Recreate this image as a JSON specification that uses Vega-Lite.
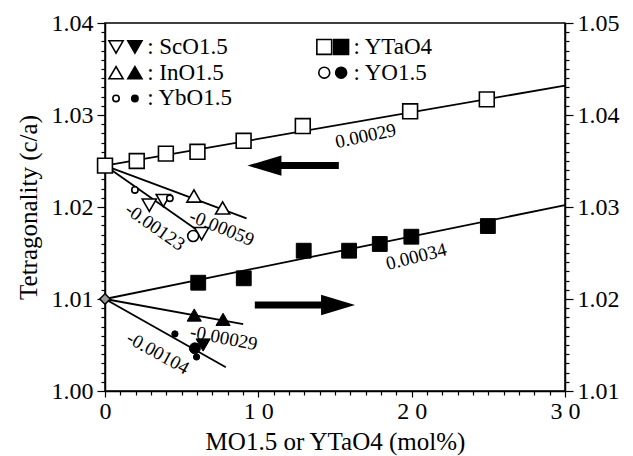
{
  "$schema": "https://vega.github.io/schema/vega-lite/v6.json",
  "width": 460,
  "height": 368,
  "autosize": {"type": "none"},
  "padding": {"left": 105, "top": 23, "right": 68, "bottom": 65},
  "background": "white",
  "config": {
    "font": "'Liberation Serif', 'Times New Roman', 'DejaVu Serif', serif",
    "view": {"stroke": "black", "strokeWidth": 1.5},
    "axis": {
      "labelFont": "'Liberation Serif', 'Times New Roman', 'DejaVu Serif', serif", "titleFont": "'Liberation Serif', 'Times New Roman', 'DejaVu Serif', serif",
      "labelFontSize": 24, "titleFontSize": 25, "titleFontWeight": "normal",
      "labelColor": "black", "titleColor": "black", "domainColor": "black",
      "tickColor": "black", "grid": false, "domainWidth": 1.5, "tickWidth": 1.2,
      "labelOverlap": false, "labelFlush": false
    },
    "text": {"font": "'Liberation Serif', 'Times New Roman', 'DejaVu Serif', serif", "color": "black"}
  },
  "datasets": {
    "openPts": [
      {"series": "YTaO4", "x": 0, "y": 1.0245},
      {"series": "YTaO4", "x": 2.07, "y": 1.0250},
      {"series": "YTaO4", "x": 3.97, "y": 1.0258},
      {"series": "YTaO4", "x": 6.03, "y": 1.0260},
      {"series": "YTaO4", "x": 9.04, "y": 1.0272},
      {"series": "YTaO4", "x": 12.9, "y": 1.0288},
      {"series": "YTaO4", "x": 19.9, "y": 1.0304},
      {"series": "YTaO4", "x": 24.9, "y": 1.0317},
      {"series": "InO1.5", "x": 5.8, "y": 1.0212},
      {"series": "InO1.5", "x": 7.67, "y": 1.0199},
      {"series": "ScO1.5", "x": 2.89, "y": 1.0202},
      {"series": "ScO1.5", "x": 3.8, "y": 1.0207},
      {"series": "ScO1.5", "x": 6.3, "y": 1.0171},
      {"series": "YbO1.5", "x": 1.95, "y": 1.02185},
      {"series": "YbO1.5", "x": 4.23, "y": 1.02095},
      {"series": "YO1.5", "x": 5.75, "y": 1.01685}
    ],
    "filledPts": [
      {"series": "YTaO4", "x": 6.08, "y": 1.02177},
      {"series": "YTaO4", "x": 9.05, "y": 1.02225},
      {"series": "YTaO4", "x": 12.96, "y": 1.02525},
      {"series": "YTaO4", "x": 15.92, "y": 1.02525},
      {"series": "YTaO4", "x": 17.92, "y": 1.02598},
      {"series": "YTaO4", "x": 19.98, "y": 1.02677},
      {"series": "YTaO4", "x": 24.97, "y": 1.02793},
      {"series": "InO1.5", "x": 5.82, "y": 1.01826},
      {"series": "InO1.5", "x": 7.7, "y": 1.01779},
      {"series": "ScO1.5", "x": 6.4, "y": 1.0150},
      {"series": "YbO1.5", "x": 4.56, "y": 1.0162},
      {"series": "YbO1.5", "x": 5.97, "y": 1.0137},
      {"series": "YO1.5", "x": 5.86, "y": 1.01464}
    ],
    "startR": [{"x": 0, "y": 1.02}],
    "fitL": [
      {"line": "YTaO4", "x": 0, "y": 1.0245}, {"line": "YTaO4", "x": 30, "y": 1.0332},
      {"line": "InO1.5", "x": 0, "y": 1.0245}, {"line": "InO1.5", "x": 9.23, "y": 1.01877},
      {"line": "ScO1.5", "x": 0, "y": 1.0245}, {"line": "ScO1.5", "x": 6.3, "y": 1.01714}
    ],
    "fitR": [
      {"line": "YTaO4", "x": 0, "y": 1.02}, {"line": "YTaO4", "x": 30, "y": 1.0302},
      {"line": "InO1.5", "x": 0, "y": 1.02}, {"line": "InO1.5", "x": 9.01, "y": 1.01728},
      {"line": "ScO1.5", "x": 0, "y": 1.02}, {"line": "ScO1.5", "x": 7.88, "y": 1.01258}
    ],
    "arrowLBar": [{"x": 10.6, "y": 1.0245}, {"x": 15.25, "y": 1.0245}],
    "arrowLHead": [{"x": 10.4, "y": 1.0245}],
    "arrowRBar": [{"x": 9.77, "y": 1.01935}, {"x": 15.0, "y": 1.01935}],
    "arrowRHead": [{"x": 15.2, "y": 1.01935}],
    "legendSym": [
      {"series": "ScO1.5", "kind": "open", "x": 0.72, "y": 1.0374},
      {"series": "ScO1.5", "kind": "filled", "x": 1.95, "y": 1.0374},
      {"series": "InO1.5", "kind": "open", "x": 0.72, "y": 1.0346},
      {"series": "InO1.5", "kind": "filled", "x": 1.95, "y": 1.0346},
      {"series": "YbO1.5", "kind": "open", "x": 0.72, "y": 1.0318},
      {"series": "YbO1.5", "kind": "filled", "x": 1.95, "y": 1.0318},
      {"series": "YTaO4", "kind": "open", "x": 14.3, "y": 1.0374},
      {"series": "YTaO4", "kind": "filled", "x": 15.4, "y": 1.0374},
      {"series": "YO1.5", "kind": "open", "x": 14.3, "y": 1.0346},
      {"series": "YO1.5", "kind": "filled", "x": 15.4, "y": 1.0346}
    ],
    "legendTxt": [
      {"label": ": ScO1.5", "x": 2.75, "y": 1.0374},
      {"label": ": InO1.5", "x": 2.75, "y": 1.0346},
      {"label": ": YbO1.5", "x": 2.75, "y": 1.0318},
      {"label": ": YTaO4", "x": 16.2, "y": 1.0374},
      {"label": ": YO1.5", "x": 16.2, "y": 1.0346}
    ]
  },
  "layer": [
    {
      "encoding": {
        "x": {"field": "x", "type": "quantitative",
          "scale": {"domain": [0, 30], "nice": false, "zero": false},
          "axis": {
            "title": "MO1.5 or YTaO4 (mol%)", "titlePadding": 6, "labelPadding": 2,
            "values": [0,1,2,3,4,5,6,7,8,9,10,11,12,13,14,15,16,17,18,19,20,21,22,23,24,25,26,27,28,29,30],
            "labelExpr": "datum.value==0?'0':datum.value==10?'1 0':datum.value==20?'2 0':datum.value==30?'3 0':''",
            "tickSize": {"condition": {"test": "datum.value%10==0", "value": 6}, "value": 4}
          }
        },
        "y": {"field": "y", "type": "quantitative",
          "scale": {"domain": [1.0, 1.04], "nice": false, "zero": false},
          "axis": {
            "orient": "left", "title": "Tetragonality (c/a)", "titlePadding": 10, "labelPadding": 4,
            "values": [1.000,1.001,1.002,1.003,1.004,1.005,1.006,1.007,1.008,1.009,1.010,1.011,1.012,1.013,1.014,1.015,1.016,1.017,1.018,1.019,1.020,1.021,1.022,1.023,1.024,1.025,1.026,1.027,1.028,1.029,1.030,1.031,1.032,1.033,1.034,1.035,1.036,1.037,1.038,1.039,1.040],
            "labelExpr": "abs(datum.value*100-round(datum.value*100))<0.001 ? format(datum.value,'.2f') : ''",
            "tickSize": {"condition": {"test": "abs(datum.value*100-round(datum.value*100))<0.001", "value": 8}, "value": 4}
          }
        }
      },
      "layer": [
        {"data": {"name": "fitL"}, "mark": {"type": "line", "color": "black", "strokeWidth": 1.8},
         "encoding": {"detail": {"field": "line"}}},
        {"data": {"name": "arrowLBar"}, "mark": {"type": "line", "color": "black", "strokeWidth": 7},
         "encoding": {}},
        {"data": {"name": "arrowLHead"}, "mark": {"type": "point", "filled": true, "color": "black", "size": 1156, "shape": "M-1,0L1,-0.6L1,0.6Z", "opacity": 1},
         "encoding": {}},
        {"data": {"name": "openPts"}, "mark": {"type": "point", "filled": true, "fill": "white", "stroke": "black", "strokeWidth": 1.6, "opacity": 1},
         "encoding": {
           "shape": {"field": "series", "type": "nominal", "scale": {"domain": ["YTaO4","InO1.5","ScO1.5","YbO1.5","YO1.5"], "range": ["square","triangle-up","triangle-down","circle","circle"]}, "legend": null},
           "size": {"field": "series", "type": "nominal", "scale": {"type": "ordinal", "domain": ["YTaO4","InO1.5","ScO1.5","YbO1.5","YO1.5"], "range": [220,200,200,40,120]}, "legend": null}
         }},
        {"data": {"name": "legendSym"}, "mark": {"type": "point", "filled": true, "stroke": "black", "strokeWidth": 1.6, "opacity": 1},
         "encoding": {
           "shape": {"field": "series", "type": "nominal", "scale": {"domain": ["YTaO4","InO1.5","ScO1.5","YbO1.5","YO1.5"], "range": ["square","triangle-up","triangle-down","circle","circle"]}, "legend": null},
           "size": {"field": "series", "type": "nominal", "scale": {"type": "ordinal", "domain": ["YTaO4","InO1.5","ScO1.5","YbO1.5","YO1.5"], "range": [220,200,200,40,120]}, "legend": null},
           "fill": {"field": "kind", "type": "nominal", "scale": {"domain": ["open","filled"], "range": ["white","black"]}, "legend": null}
         }},
        {"data": {"name": "legendTxt"}, "mark": {"type": "text", "align": "left", "baseline": "middle", "fontSize": 23},
         "encoding": {"text": {"field": "label"}}},
        {"data": {"values": [{"label": "0.00029", "x": 17.0, "y": 1.02772}]}, "mark": {"type": "text", "fontSize": 19, "angle": 348},
         "encoding": {"text": {"field": "label"}}},
        {"data": {"values": [{"label": "-0.00123", "x": 3.26, "y": 1.01783}]}, "mark": {"type": "text", "fontSize": 19, "angle": 35},
         "encoding": {"text": {"field": "label"}}},
        {"data": {"values": [{"label": "-0.00059", "x": 7.62, "y": 1.01772}]}, "mark": {"type": "text", "fontSize": 19, "angle": 22},
         "encoding": {"text": {"field": "label"}}}
      ]
    },
    {
      "encoding": {
        "x": {"field": "x", "type": "quantitative",
          "scale": {"domain": [0, 30], "nice": false, "zero": false},
          "axis": {
            "title": "MO1.5 or YTaO4 (mol%)", "titlePadding": 6, "labelPadding": 2,
            "values": [0,1,2,3,4,5,6,7,8,9,10,11,12,13,14,15,16,17,18,19,20,21,22,23,24,25,26,27,28,29,30],
            "labelExpr": "datum.value==0?'0':datum.value==10?'1 0':datum.value==20?'2 0':datum.value==30?'3 0':''",
            "tickSize": {"condition": {"test": "datum.value%10==0", "value": 6}, "value": 4}
          }
        },
        "y": {"field": "y", "type": "quantitative",
          "scale": {"domain": [1.01, 1.05], "nice": false, "zero": false},
          "axis": {
            "orient": "right", "title": null, "labelPadding": 4,
            "values": [1.010,1.011,1.012,1.013,1.014,1.015,1.016,1.017,1.018,1.019,1.020,1.021,1.022,1.023,1.024,1.025,1.026,1.027,1.028,1.029,1.030,1.031,1.032,1.033,1.034,1.035,1.036,1.037,1.038,1.039,1.040,1.041,1.042,1.043,1.044,1.045,1.046,1.047,1.048,1.049,1.050],
            "labelExpr": "abs(datum.value*100-round(datum.value*100))<0.001 ? format(datum.value,'.2f') : ''",
            "tickSize": {"condition": {"test": "abs(datum.value*100-round(datum.value*100))<0.001", "value": 8}, "value": 4}
          }
        }
      },
      "layer": [
        {"data": {"name": "fitR"}, "mark": {"type": "line", "color": "black", "strokeWidth": 1.8},
         "encoding": {"detail": {"field": "line"}}},
        {"data": {"name": "arrowRBar"}, "mark": {"type": "line", "color": "black", "strokeWidth": 7},
         "encoding": {}},
        {"data": {"name": "arrowRHead"}, "mark": {"type": "point", "filled": true, "color": "black", "size": 1156, "shape": "M1,0L-1,-0.6L-1,0.6Z", "opacity": 1},
         "encoding": {}},
        {"data": {"name": "filledPts"}, "mark": {"type": "point", "filled": true, "fill": "black", "stroke": "black", "strokeWidth": 1, "opacity": 1},
         "encoding": {
           "shape": {"field": "series", "type": "nominal", "scale": {"domain": ["YTaO4","InO1.5","ScO1.5","YbO1.5","YO1.5"], "range": ["square","triangle-up","triangle-down","circle","circle"]}, "legend": null},
           "size": {"field": "series", "type": "nominal", "scale": {"type": "ordinal", "domain": ["YTaO4","InO1.5","ScO1.5","YbO1.5","YO1.5"], "range": [220,200,200,40,120]}, "legend": null}
         }},
        {"data": {"name": "startR"}, "mark": {"type": "point", "shape": "diamond", "filled": true, "fill": "#999999", "stroke": "black", "strokeWidth": 1.5, "size": 110, "opacity": 1},
         "encoding": {}},
        {"data": {"values": [{"label": "0.00034", "x": 20.3, "y": 1.0246}]}, "mark": {"type": "text", "fontSize": 19, "angle": 346},
         "encoding": {"text": {"field": "label"}}},
        {"data": {"values": [{"label": "-0.00029", "x": 7.75, "y": 1.01576}]}, "mark": {"type": "text", "fontSize": 19, "angle": 11},
         "encoding": {"text": {"field": "label"}}},
        {"data": {"values": [{"label": "-0.00104", "x": 3.45, "y": 1.01413}]}, "mark": {"type": "text", "fontSize": 19, "angle": 29},
         "encoding": {"text": {"field": "label"}}}
      ]
    }
  ],
  "resolve": {"scale": {"y": "independent"}}
}
